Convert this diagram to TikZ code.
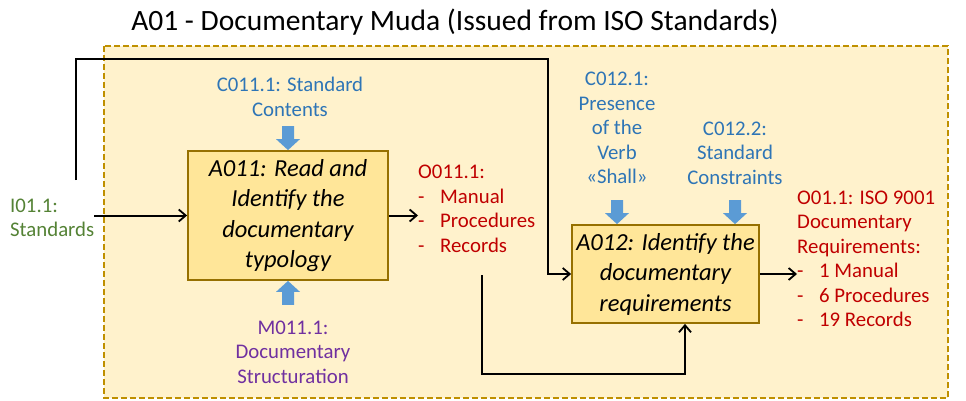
\documentclass[tikz,border=0pt]{standalone}
\usepackage{fontspec}
\setmainfont{Carlito}
\usepackage{tikz}
\usetikzlibrary{arrows.meta,calc}

\definecolor{bgyellow}{RGB}{255,242,204}
\definecolor{framegold}{RGB}{191,144,0}
\definecolor{actfill}{RGB}{255,230,153}
\definecolor{actline}{RGB}{150,112,0}
\definecolor{inpgreen}{RGB}{84,130,53}
\definecolor{ctrlblue}{RGB}{46,117,182}
\definecolor{arrblue}{RGB}{91,155,213}
\definecolor{outred}{RGB}{192,0,0}
\definecolor{mechpurple}{RGB}{112,48,160}

\newcommand{\li}[1]{\makebox[22pt][l]{-}#1}

\tikzset{
  lbl/.style={inner sep=0pt,font=\fontsize{20.8}{24.5}\selectfont},
  activity/.style={draw=actline,line width=1.8pt,fill=actfill,inner sep=0pt,
    align=center,font=\fontsize{24.5}{30.5}\selectfont\itshape},
  flow/.style={line width=2pt,-{Straight Barb[length=7pt,width=12pt,line width=1.8pt]}},
  blockdn/.pic={\fill[arrblue] (-6,24) -- (6,24) -- (6,11) -- (12,11) -- (0,0) -- (-12,11) -- (-6,11) -- cycle;},
  blockup/.pic={\fill[arrblue] (-6,-24) -- (6,-24) -- (6,-11) -- (12,-11) -- (0,0) -- (-12,-11) -- (-6,-11) -- cycle;}
}

\begin{document}
\begin{tikzpicture}[x=1pt,y=1pt,yscale=-1]
        \useasboundingbox (0,0) rectangle (966,401);

        % frame of A01
        \draw [fill=bgyellow,draw=framegold,line width=1.6pt,dash pattern=on 6pt off 3pt] (104,46) rectangle (948,398);

        % Title
        \node (title) at (455,22) [inner sep=0pt,font=\fontsize{29.5}{34}\selectfont] {A01 - Documentary Muda (Issued from ISO Standards)};

        % Activities
        \node (a011) [activity,minimum width=200,minimum height=129] at (288,215.5) {A011: Read and\\Identify the\\documentary\\typology};
        \node (a012) [activity,minimum width=187,minimum height=98] at (665.5,274) {A012: Identify the\\documentary\\requirements};

        % Text Node
        \node (i011) [lbl,anchor=west,align=left,text=inpgreen] at (10,218) {I01.1:\\Standards};
        % Text Node
        \node (c0111) [lbl,align=center,text=ctrlblue] at (290,97) {C011.1: Standard\\Contents};
        % Text Node
        \node (o0111) [lbl,anchor=west,align=left,text=outred] at (418,209) {O011.1:\\\li{Manual}\\\li{Procedures}\\\li{Records}};
        % Text Node
        \node (m0111) [lbl,align=center,text=mechpurple] at (293,352) {M011.1:\\Documentary\\Structuration};
        % Text Node
        \node (c0121) [lbl,align=center,text=ctrlblue] at (617,128) {C012.1:\\Presence\\of the\\Verb\\«Shall»};
        % Text Node
        \node (c0122) [lbl,align=center,text=ctrlblue] at (735,153) {C012.2:\\Standard\\Constraints};
        % Text Node
        \node (o011) [lbl,anchor=west,align=left,text=outred] at (797,259) {O01.1: ISO 9001\\Documentary\\Requirements:\\\li{1 Manual}\\\li{6 Procedures}\\\li{19 Records}};

        % block arrows (controls and mechanism)
        \pic at (a011.north) {blockdn};
        \pic at (a011.south) {blockup};
        \pic at (a012.north -| c0121) {blockdn};
        \pic at (a012.north -| c0122) {blockdn};

        % connectors
        \coordinate (split) at (76,180);
        \coordinate (turn) at (548,59);
        \coordinate (recstart) at (482,275);
        \coordinate (a012in) at ($(a012.south)+(19.5,0)$);
        \draw [flow] (a011.west -| i011.east) -- (a011.west);
        \draw [flow] (split) |- (turn) |- (a012.west);
        \draw [flow] (a011.east) -- (a011.east -| o0111.west);
        \draw [flow] (recstart) |- ($(a012in)+(0,50)$) -- (a012in);
        \draw [flow] (a012.east) -- (a012.east -| o011.west);

\end{tikzpicture}
\end{document}
